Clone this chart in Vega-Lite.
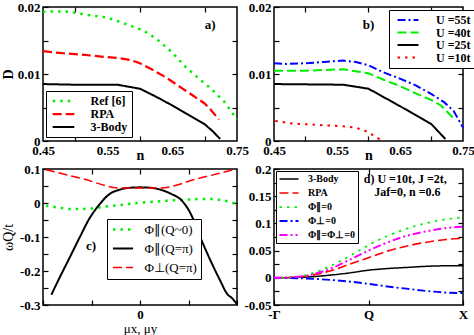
{
  "$schema": "https://vega.github.io/schema/vega-lite/v6.json",
  "background": "white",
  "padding": {"left": 0, "top": 0, "right": 0, "bottom": 0},
  "datasets": {
    "a": [
      {"s": "Ref [6]", "x": 0.45, "y": 0.0193}, {"s": "Ref [6]", "x": 0.47, "y": 0.01935}, {"s": "Ref [6]", "x": 0.49, "y": 0.0193},
      {"s": "Ref [6]", "x": 0.52, "y": 0.0188}, {"s": "Ref [6]", "x": 0.55, "y": 0.0184}, {"s": "Ref [6]", "x": 0.58, "y": 0.0174},
      {"s": "Ref [6]", "x": 0.605, "y": 0.0165}, {"s": "Ref [6]", "x": 0.625, "y": 0.0153}, {"s": "Ref [6]", "x": 0.65, "y": 0.0132},
      {"s": "Ref [6]", "x": 0.67, "y": 0.0111}, {"s": "Ref [6]", "x": 0.69, "y": 0.0094}, {"s": "Ref [6]", "x": 0.71, "y": 0.0078},
      {"s": "Ref [6]", "x": 0.73, "y": 0.0059}, {"s": "Ref [6]", "x": 0.75, "y": 0.0032},
      {"s": "RPA", "x": 0.45, "y": 0.0134}, {"s": "RPA", "x": 0.48, "y": 0.0131}, {"s": "RPA", "x": 0.51, "y": 0.0129},
      {"s": "RPA", "x": 0.54, "y": 0.0126}, {"s": "RPA", "x": 0.565, "y": 0.0124}, {"s": "RPA", "x": 0.585, "y": 0.0121},
      {"s": "RPA", "x": 0.6, "y": 0.0116}, {"s": "RPA", "x": 0.62, "y": 0.0106}, {"s": "RPA", "x": 0.64, "y": 0.0095},
      {"s": "RPA", "x": 0.66, "y": 0.0082}, {"s": "RPA", "x": 0.68, "y": 0.0069}, {"s": "RPA", "x": 0.7, "y": 0.0056},
      {"s": "RPA", "x": 0.71, "y": 0.0046}, {"s": "RPA", "x": 0.722, "y": 0.0032},
      {"s": "3-Body", "x": 0.45, "y": 0.0085}, {"s": "3-Body", "x": 0.5, "y": 0.0084}, {"s": "3-Body", "x": 0.565, "y": 0.0084},
      {"s": "3-Body", "x": 0.6, "y": 0.0078}, {"s": "3-Body", "x": 0.625, "y": 0.0066}, {"s": "3-Body", "x": 0.65, "y": 0.0053},
      {"s": "3-Body", "x": 0.675, "y": 0.0039}, {"s": "3-Body", "x": 0.7, "y": 0.0025}, {"s": "3-Body", "x": 0.712, "y": 0.0015},
      {"s": "3-Body", "x": 0.724, "y": 0.0003}
    ],
    "b": [
      {"s": "U =55t", "x": 0.45, "y": 0.0116}, {"s": "U =55t", "x": 0.47, "y": 0.0115}, {"s": "U =55t", "x": 0.5, "y": 0.0116},
      {"s": "U =55t", "x": 0.53, "y": 0.0118}, {"s": "U =55t", "x": 0.56, "y": 0.012}, {"s": "U =55t", "x": 0.58, "y": 0.0118},
      {"s": "U =55t", "x": 0.6, "y": 0.0113}, {"s": "U =55t", "x": 0.625, "y": 0.0102}, {"s": "U =55t", "x": 0.65, "y": 0.0093},
      {"s": "U =55t", "x": 0.675, "y": 0.0083}, {"s": "U =55t", "x": 0.7, "y": 0.007}, {"s": "U =55t", "x": 0.72, "y": 0.0058},
      {"s": "U =55t", "x": 0.735, "y": 0.0045}, {"s": "U =55t", "x": 0.75, "y": 0.002},
      {"s": "U =40t", "x": 0.45, "y": 0.0105}, {"s": "U =40t", "x": 0.5, "y": 0.0105}, {"s": "U =40t", "x": 0.56, "y": 0.0107},
      {"s": "U =40t", "x": 0.6, "y": 0.0101}, {"s": "U =40t", "x": 0.625, "y": 0.0091}, {"s": "U =40t", "x": 0.65, "y": 0.0082},
      {"s": "U =40t", "x": 0.675, "y": 0.0071}, {"s": "U =40t", "x": 0.7, "y": 0.0061}, {"s": "U =40t", "x": 0.715, "y": 0.0053},
      {"s": "U =40t", "x": 0.735, "y": 0.0034},
      {"s": "U =25t", "x": 0.45, "y": 0.0085}, {"s": "U =25t", "x": 0.56, "y": 0.0084}, {"s": "U =25t", "x": 0.6, "y": 0.0078},
      {"s": "U =25t", "x": 0.65, "y": 0.0052}, {"s": "U =25t", "x": 0.7, "y": 0.0025}, {"s": "U =25t", "x": 0.722, "y": 0.0003},
      {"s": "U =10t", "x": 0.452, "y": 0.003}, {"s": "U =10t", "x": 0.48, "y": 0.0026}, {"s": "U =10t", "x": 0.52, "y": 0.0024},
      {"s": "U =10t", "x": 0.56, "y": 0.0022}, {"s": "U =10t", "x": 0.58, "y": 0.002}, {"s": "U =10t", "x": 0.595, "y": 0.0015},
      {"s": "U =10t", "x": 0.605, "y": 0.001}, {"s": "U =10t", "x": 0.612, "y": 0.0006}, {"s": "U =10t", "x": 0.62, "y": 0.0001}
    ],
    "c": [
      {"s": "Φ∥(Q~0)", "x": -0.97, "y": -0.008}, {"s": "Φ∥(Q~0)", "x": -0.85, "y": -0.013}, {"s": "Φ∥(Q~0)", "x": -0.7, "y": -0.018},
      {"s": "Φ∥(Q~0)", "x": -0.55, "y": -0.017}, {"s": "Φ∥(Q~0)", "x": -0.4, "y": -0.012}, {"s": "Φ∥(Q~0)", "x": -0.2, "y": -0.006},
      {"s": "Φ∥(Q~0)", "x": 0, "y": 0.001}, {"s": "Φ∥(Q~0)", "x": 0.2, "y": 0.005}, {"s": "Φ∥(Q~0)", "x": 0.4, "y": 0.009},
      {"s": "Φ∥(Q~0)", "x": 0.55, "y": 0.011}, {"s": "Φ∥(Q~0)", "x": 0.7, "y": 0.012}, {"s": "Φ∥(Q~0)", "x": 0.85, "y": 0.008},
      {"s": "Φ∥(Q~0)", "x": 0.98, "y": -0.001},
      {"s": "Φ∥(Q=π)", "x": -0.914, "y": -0.27}, {"s": "Φ∥(Q=π)", "x": -0.828, "y": -0.219}, {"s": "Φ∥(Q=π)", "x": -0.724, "y": -0.16},
      {"s": "Φ∥(Q=π)", "x": -0.62, "y": -0.1}, {"s": "Φ∥(Q=π)", "x": -0.52, "y": -0.045}, {"s": "Φ∥(Q=π)", "x": -0.42, "y": -0.005},
      {"s": "Φ∥(Q=π)", "x": -0.32, "y": 0.025}, {"s": "Φ∥(Q=π)", "x": -0.2, "y": 0.04}, {"s": "Φ∥(Q=π)", "x": -0.1, "y": 0.045},
      {"s": "Φ∥(Q=π)", "x": 0, "y": 0.046}, {"s": "Φ∥(Q=π)", "x": 0.1, "y": 0.045}, {"s": "Φ∥(Q=π)", "x": 0.2, "y": 0.04},
      {"s": "Φ∥(Q=π)", "x": 0.32, "y": 0.027}, {"s": "Φ∥(Q=π)", "x": 0.42, "y": 0.01}, {"s": "Φ∥(Q=π)", "x": 0.52, "y": -0.03},
      {"s": "Φ∥(Q=π)", "x": 0.62, "y": -0.1}, {"s": "Φ∥(Q=π)", "x": 0.72, "y": -0.165}, {"s": "Φ∥(Q=π)", "x": 0.83, "y": -0.23},
      {"s": "Φ∥(Q=π)", "x": 0.9, "y": -0.268}, {"s": "Φ∥(Q=π)", "x": 0.95, "y": -0.28}, {"s": "Φ∥(Q=π)", "x": 1.0, "y": -0.298},
      {"s": "Φ⊥(Q=π)", "x": -0.97, "y": 0.098}, {"s": "Φ⊥(Q=π)", "x": -0.6, "y": 0.072}, {"s": "Φ⊥(Q=π)", "x": -0.2, "y": 0.044},
      {"s": "Φ⊥(Q=π)", "x": 0.2, "y": 0.044}, {"s": "Φ⊥(Q=π)", "x": 0.6, "y": 0.072}, {"s": "Φ⊥(Q=π)", "x": 0.98, "y": 0.099}
    ],
    "d": [
      {"s": "3-Body", "x": 0, "y": 0}, {"s": "3-Body", "x": 0.3, "y": 0.001}, {"s": "3-Body", "x": 0.6, "y": 0.005},
      {"s": "3-Body", "x": 0.8, "y": 0.009}, {"s": "3-Body", "x": 1.0, "y": 0.014}, {"s": "3-Body", "x": 1.2, "y": 0.017},
      {"s": "3-Body", "x": 1.4, "y": 0.019}, {"s": "3-Body", "x": 1.6, "y": 0.021}, {"s": "3-Body", "x": 1.8, "y": 0.022},
      {"s": "3-Body", "x": 2.0, "y": 0.022},
      {"s": "RPA", "x": 0, "y": 0}, {"s": "RPA", "x": 0.2, "y": 0.001}, {"s": "RPA", "x": 0.4, "y": 0.005},
      {"s": "RPA", "x": 0.6, "y": 0.013}, {"s": "RPA", "x": 0.8, "y": 0.025}, {"s": "RPA", "x": 1.0, "y": 0.037},
      {"s": "RPA", "x": 1.2, "y": 0.049}, {"s": "RPA", "x": 1.4, "y": 0.058}, {"s": "RPA", "x": 1.6, "y": 0.065},
      {"s": "RPA", "x": 1.8, "y": 0.07}, {"s": "RPA", "x": 2.0, "y": 0.073},
      {"s": "Φ∥=0", "x": 0, "y": 0}, {"s": "Φ∥=0", "x": 0.2, "y": 0.001}, {"s": "Φ∥=0", "x": 0.4, "y": 0.008},
      {"s": "Φ∥=0", "x": 0.6, "y": 0.022}, {"s": "Φ∥=0", "x": 0.8, "y": 0.04}, {"s": "Φ∥=0", "x": 1.0, "y": 0.06},
      {"s": "Φ∥=0", "x": 1.2, "y": 0.077}, {"s": "Φ∥=0", "x": 1.4, "y": 0.09}, {"s": "Φ∥=0", "x": 1.6, "y": 0.1},
      {"s": "Φ∥=0", "x": 1.8, "y": 0.107}, {"s": "Φ∥=0", "x": 2.0, "y": 0.111},
      {"s": "Φ⊥=0", "x": 0, "y": 0}, {"s": "Φ⊥=0", "x": 0.3, "y": -0.001}, {"s": "Φ⊥=0", "x": 0.6, "y": -0.004},
      {"s": "Φ⊥=0", "x": 0.8, "y": -0.007}, {"s": "Φ⊥=0", "x": 1.0, "y": -0.011}, {"s": "Φ⊥=0", "x": 1.2, "y": -0.016},
      {"s": "Φ⊥=0", "x": 1.4, "y": -0.02}, {"s": "Φ⊥=0", "x": 1.6, "y": -0.024}, {"s": "Φ⊥=0", "x": 1.8, "y": -0.027},
      {"s": "Φ⊥=0", "x": 2.0, "y": -0.028},
      {"s": "Φ∥=Φ⊥=0", "x": 0, "y": 0}, {"s": "Φ∥=Φ⊥=0", "x": 0.2, "y": 0.001}, {"s": "Φ∥=Φ⊥=0", "x": 0.4, "y": 0.006},
      {"s": "Φ∥=Φ⊥=0", "x": 0.6, "y": 0.017}, {"s": "Φ∥=Φ⊥=0", "x": 0.8, "y": 0.033}, {"s": "Φ∥=Φ⊥=0", "x": 1.0, "y": 0.05},
      {"s": "Φ∥=Φ⊥=0", "x": 1.2, "y": 0.065}, {"s": "Φ∥=Φ⊥=0", "x": 1.4, "y": 0.077}, {"s": "Φ∥=Φ⊥=0", "x": 1.6, "y": 0.085},
      {"s": "Φ∥=Φ⊥=0", "x": 1.8, "y": 0.091}, {"s": "Φ∥=Φ⊥=0", "x": 2.0, "y": 0.094}
    ]
  },
  "columns": 2,
  "spacing": {"column": 37, "row": 28},
  "bounds": "flush",
  "concat": [
    {
      "width": 194, "height": 134,
      "layer": [
        {
          "data": {"name": "a"},
          "mark": {"type": "line"},
          "encoding": {
            "x": {"field": "x", "type": "quantitative", "scale": {"domain": [0.45, 0.75], "nice": false, "zero": false},
              "axis": {"orient": "bottom", "values": [0.45, 0.5, 0.55, 0.6, 0.65, 0.7, 0.75],
                "labelExpr": "round(datum.value*100)%10==5 ? ''+datum.value : ''",
                "tickOpacity": {"condition": {"test": "round(datum.value*100)%10==0", "value": 1}, "value": 0},
                "title": "n", "titlePadding": -9}},
            "y": {"field": "y", "type": "quantitative", "scale": {"domain": [0, 0.02], "nice": false},
              "axis": {"orient": "left", "values": [0, 0.005, 0.01, 0.015, 0.02],
                "labelExpr": "round(datum.value*1000)%10==0 ? ''+datum.value : ''", "title": "D", "titlePadding": 2}},
            "color": {"field": "s", "type": "nominal", "scale": {"domain": ["Ref [6]", "RPA", "3-Body"], "range": ["#00ee00", "#ff0000", "#000000"]},
              "legend": {"orient": "none", "legendX": 3, "legendY": 84, "title": null, "symbolType": "M-3,0H3", "symbolSize": 52, "symbolOffset": 7.5, "symbolStrokeWidth": 2, "labelFont": "Liberation Serif", "labelFontWeight": "bold", "labelFontSize": 12, "labelColor": "black", "strokeColor": "black", "fillColor": "white", "padding": 4, "rowPadding": 1, "labelOffset": 21}},
            "strokeDash": {"field": "s", "type": "nominal", "scale": {"domain": ["Ref [6]", "RPA", "3-Body"], "range": [[2.5, 5], [9, 4], [1, 0]]},
              "legend": {"orient": "none", "legendX": 3, "legendY": 84, "title": null, "symbolType": "M-3,0H3", "symbolSize": 52, "symbolOffset": 7.5, "symbolStrokeWidth": 2, "labelFont": "Liberation Serif", "labelFontWeight": "bold", "labelFontSize": 12, "labelColor": "black", "strokeColor": "black", "fillColor": "white", "padding": 4, "rowPadding": 1, "labelOffset": 21}},
            "strokeWidth": {"field": "s", "type": "nominal", "scale": {"domain": ["Ref [6]", "RPA", "3-Body"], "range": [2.5, 2, 1.5]}, "legend": null}
          }
        },
        {
          "data": {"name": "a"},
          "mark": {"type": "point", "opacity": 0},
          "encoding": {
            "x": {"field": "x", "type": "quantitative", "scale": {"domain": [0.45, 0.75], "nice": false, "zero": false},
              "axis": {"orient": "top", "values": [0.5, 0.6, 0.7], "labels": false, "title": null}},
            "y": {"field": "y", "type": "quantitative", "scale": {"domain": [0, 0.02], "nice": false},
              "axis": {"orient": "right", "values": [0.005, 0.01, 0.015], "labels": false, "title": null}}
          }
        },
        {
          "data": {"values": [{"x": 0.7, "y": 0.0173, "t": "a)"}]},
          "mark": {"type": "text", "align": "left", "font": "Liberation Serif", "fontWeight": "bold", "fontSize": 13, "color": "black"},
          "encoding": {
            "x": {"field": "x", "type": "quantitative", "scale": {"domain": [0.45, 0.75], "nice": false, "zero": false}, "axis": null},
            "y": {"field": "y", "type": "quantitative", "scale": {"domain": [0, 0.02], "nice": false}, "axis": null},
            "text": {"field": "t"}
          }
        }
      ],
      "resolve": {"axis": {"x": "independent", "y": "independent"}}
    },
    {
      "width": 189, "height": 134,
      "layer": [
        {
          "data": {"name": "b"},
          "mark": {"type": "line"},
          "encoding": {
            "x": {"field": "x", "type": "quantitative", "scale": {"domain": [0.45, 0.75], "nice": false, "zero": false},
              "axis": {"orient": "bottom", "values": [0.45, 0.5, 0.55, 0.6, 0.65, 0.7, 0.75],
                "labelExpr": "round(datum.value*100)%10==5 ? ''+datum.value : ''",
                "tickOpacity": {"condition": {"test": "round(datum.value*100)%10==0", "value": 1}, "value": 0},
                "title": "n", "titlePadding": -9}},
            "y": {"field": "y", "type": "quantitative", "scale": {"domain": [0, 0.02], "nice": false},
              "axis": {"orient": "left", "values": [0, 0.005, 0.01, 0.015, 0.02],
                "labelExpr": "round(datum.value*1000)%10==0 ? ''+datum.value : ''", "title": null}},
            "color": {"field": "s", "type": "nominal", "scale": {"domain": ["U =55t", "U =40t", "U =25t", "U =10t"], "range": ["#0000ff", "#00ee00", "#000000", "#ff0000"]},
              "legend": {"orient": "none", "legendX": 115, "legendY": 3, "title": null, "symbolType": "M-3,0H3", "symbolSize": 49, "symbolOffset": 9, "symbolStrokeWidth": 2, "labelFont": "Liberation Serif", "labelFontWeight": "bold", "labelFontSize": 12, "labelColor": "black", "strokeColor": "black", "fillColor": "white", "padding": 4, "rowPadding": 0.5, "labelOffset": 22}},
            "strokeDash": {"field": "s", "type": "nominal", "scale": {"domain": ["U =55t", "U =40t", "U =25t", "U =10t"], "range": [[8, 3, 2, 3], [9, 4], [1, 0], [2.5, 5]]},
              "legend": {"orient": "none", "legendX": 115, "legendY": 3, "title": null, "symbolType": "M-3,0H3", "symbolSize": 49, "symbolOffset": 9, "symbolStrokeWidth": 2, "labelFont": "Liberation Serif", "labelFontWeight": "bold", "labelFontSize": 12, "labelColor": "black", "strokeColor": "black", "fillColor": "white", "padding": 4, "rowPadding": 0.5, "labelOffset": 22}},
            "strokeWidth": {"field": "s", "type": "nominal", "scale": {"domain": ["U =55t", "U =40t", "U =25t", "U =10t"], "range": [2, 2, 1.5, 2.5]}, "legend": null}
          }
        },
        {
          "data": {"name": "b"},
          "mark": {"type": "point", "opacity": 0},
          "encoding": {
            "x": {"field": "x", "type": "quantitative", "scale": {"domain": [0.45, 0.75], "nice": false, "zero": false},
              "axis": {"orient": "top", "values": [0.5, 0.6, 0.7], "labels": false, "title": null}},
            "y": {"field": "y", "type": "quantitative", "scale": {"domain": [0, 0.02], "nice": false},
              "axis": {"orient": "right", "values": [0.005, 0.01, 0.015], "labels": false, "title": null}}
          }
        },
        {
          "data": {"values": [{"x": 0.591, "y": 0.0173, "t": "b)"}]},
          "mark": {"type": "text", "align": "left", "font": "Liberation Serif", "fontWeight": "bold", "fontSize": 13, "color": "black"},
          "encoding": {
            "x": {"field": "x", "type": "quantitative", "scale": {"domain": [0.45, 0.75], "nice": false, "zero": false}, "axis": null},
            "y": {"field": "y", "type": "quantitative", "scale": {"domain": [0, 0.02], "nice": false}, "axis": null},
            "text": {"field": "t"}
          }
        }
      ],
      "resolve": {"axis": {"x": "independent", "y": "independent"}}
    },
    {
      "width": 194, "height": 136,
      "layer": [
        {
          "data": {"name": "c"},
          "mark": {"type": "line", "interpolate": "monotone"},
          "encoding": {
            "x": {"field": "x", "type": "quantitative", "scale": {"domain": [-1, 1], "nice": false, "zero": false},
              "axis": {"orient": "bottom", "values": [-1, -0.5, 0, 0.5, 1],
                "labelExpr": "datum.value==0 ? '0' : ''",
                "title": "μx, μy", "titleFontWeight": "normal", "titleFontSize": 13, "titlePadding": 1}},
            "y": {"field": "y", "type": "quantitative", "scale": {"domain": [-0.3, 0.1], "nice": false, "zero": false},
              "axis": {"orient": "left", "values": [-0.3, -0.25, -0.2, -0.15, -0.1, -0.05, 0, 0.05, 0.1],
                "labelExpr": "round(datum.value*100)%10==0 ? ''+datum.value : ''", "title": "ωQ/t", "titleFontWeight": "normal", "titlePadding": 4}},
            "color": {"field": "s", "type": "nominal", "scale": {"domain": ["Φ∥(Q~0)", "Φ∥(Q=π)", "Φ⊥(Q=π)"], "range": ["#00ee00", "#000000", "#ff0000"]},
              "legend": {"orient": "none", "legendX": 64, "legendY": 50, "title": null, "symbolType": "M-3,0H3", "symbolSize": 45, "symbolOffset": 5.5, "symbolStrokeWidth": 2, "labelFont": "Liberation Serif", "labelFontWeight": "normal", "labelFontSize": 13, "labelColor": "black", "strokeColor": "black", "fillColor": "white", "padding": 4, "rowPadding": 5, "labelOffset": 15}},
            "strokeDash": {"field": "s", "type": "nominal", "scale": {"domain": ["Φ∥(Q~0)", "Φ∥(Q=π)", "Φ⊥(Q=π)"], "range": [[2.5, 5], [1, 0], [9, 4]]},
              "legend": {"orient": "none", "legendX": 64, "legendY": 50, "title": null, "symbolType": "M-3,0H3", "symbolSize": 45, "symbolOffset": 5.5, "symbolStrokeWidth": 2, "labelFont": "Liberation Serif", "labelFontWeight": "normal", "labelFontSize": 13, "labelColor": "black", "strokeColor": "black", "fillColor": "white", "padding": 4, "rowPadding": 5, "labelOffset": 15}},
            "strokeWidth": {"field": "s", "type": "nominal", "scale": {"domain": ["Φ∥(Q~0)", "Φ∥(Q=π)", "Φ⊥(Q=π)"], "range": [2.5, 1.5, 2]}, "legend": null}
          }
        },
        {
          "data": {"name": "c"},
          "mark": {"type": "point", "opacity": 0},
          "encoding": {
            "x": {"field": "x", "type": "quantitative", "scale": {"domain": [-1, 1], "nice": false, "zero": false},
              "axis": {"orient": "top", "values": [-0.5, 0, 0.5], "labels": false, "title": null}},
            "y": {"field": "y", "type": "quantitative", "scale": {"domain": [-0.3, 0.1], "nice": false, "zero": false},
              "axis": {"orient": "right", "values": [-0.25, -0.2, -0.15, -0.1, -0.05, 0, 0.05], "labels": false, "title": null}}
          }
        },
        {
          "data": {"values": [{"x": -0.557, "y": -0.125, "t": "c)"}]},
          "mark": {"type": "text", "align": "left", "font": "Liberation Serif", "fontWeight": "bold", "fontSize": 13, "color": "black"},
          "encoding": {
            "x": {"field": "x", "type": "quantitative", "scale": {"domain": [-1, 1], "nice": false, "zero": false}, "axis": null},
            "y": {"field": "y", "type": "quantitative", "scale": {"domain": [-0.3, 0.1], "nice": false, "zero": false}, "axis": null},
            "text": {"field": "t"}
          }
        }
      ],
      "resolve": {"axis": {"x": "independent", "y": "independent"}}
    },
    {
      "width": 189, "height": 136,
      "layer": [
        {
          "data": {"name": "d"},
          "mark": {"type": "line", "interpolate": "monotone"},
          "encoding": {
            "x": {"field": "x", "type": "quantitative", "scale": {"domain": [0, 2], "nice": false, "zero": false},
              "axis": {"orient": "bottom", "values": [0, 1, 2],
                "labelExpr": "datum.value==0 ? '-Γ' : (datum.value==1 ? 'Q' : 'X')", "title": null}},
            "y": {"field": "y", "type": "quantitative", "scale": {"domain": [-0.05, 0.2], "nice": false, "zero": false},
              "axis": {"orient": "left", "values": [-0.05, -0.025, 0, 0.025, 0.05, 0.075, 0.1, 0.125, 0.15, 0.175, 0.2],
                "labelExpr": "round(datum.value*1000)%50==0 ? ''+datum.value : ''", "title": null}},
            "color": {"field": "s", "type": "nominal", "scale": {"domain": ["3-Body", "RPA", "Φ∥=0", "Φ⊥=0", "Φ∥=Φ⊥=0"], "range": ["#000000", "#ff0000", "#00ee00", "#0000ff", "#ff00ff"]},
              "legend": {"orient": "none", "legendX": 2, "legendY": 2, "title": null, "symbolType": "M-3,0H3", "symbolSize": 40, "symbolOffset": 5, "symbolStrokeWidth": 2, "labelFont": "Liberation Serif", "labelFontWeight": "bold", "labelFontSize": 10, "labelColor": "black", "strokeColor": "black", "fillColor": "white", "padding": 3, "rowPadding": 4, "labelOffset": 14}},
            "strokeDash": {"field": "s", "type": "nominal", "scale": {"domain": ["3-Body", "RPA", "Φ∥=0", "Φ⊥=0", "Φ∥=Φ⊥=0"], "range": [[1, 0], [9, 4], [2.5, 5], [8, 3, 2, 3], [8, 3, 2, 3, 2, 3]]},
              "legend": {"orient": "none", "legendX": 2, "legendY": 2, "title": null, "symbolType": "M-3,0H3", "symbolSize": 40, "symbolOffset": 5, "symbolStrokeWidth": 2, "labelFont": "Liberation Serif", "labelFontWeight": "bold", "labelFontSize": 10, "labelColor": "black", "strokeColor": "black", "fillColor": "white", "padding": 3, "rowPadding": 4, "labelOffset": 14}},
            "strokeWidth": {"field": "s", "type": "nominal", "scale": {"domain": ["3-Body", "RPA", "Φ∥=0", "Φ⊥=0", "Φ∥=Φ⊥=0"], "range": [1.5, 2, 2.5, 2, 2]}, "legend": null}
          }
        },
        {
          "data": {"name": "d"},
          "mark": {"type": "point", "opacity": 0},
          "encoding": {
            "x": {"field": "x", "type": "quantitative", "scale": {"domain": [0, 2], "nice": false, "zero": false},
              "axis": {"orient": "top", "values": [1], "labels": false, "title": null}},
            "y": {"field": "y", "type": "quantitative", "scale": {"domain": [-0.05, 0.2], "nice": false, "zero": false},
              "axis": {"orient": "right", "values": [-0.025, 0, 0.025, 0.05, 0.075, 0.1, 0.125, 0.15, 0.175], "labels": false, "title": null}}
          }
        },
        {
          "data": {"values": [{"x": 0.95, "y": 0.1816, "t": "d) U =10t, J =2t,"}, {"x": 1.06, "y": 0.1577, "t": "Jaf=0, n =0.6"}]},
          "mark": {"type": "text", "align": "left", "font": "Liberation Serif", "fontWeight": "bold", "fontSize": 12, "color": "black"},
          "encoding": {
            "x": {"field": "x", "type": "quantitative", "scale": {"domain": [0, 2], "nice": false, "zero": false}, "axis": null},
            "y": {"field": "y", "type": "quantitative", "scale": {"domain": [-0.05, 0.2], "nice": false, "zero": false}, "axis": null},
            "text": {"field": "t"}
          }
        }
      ],
      "resolve": {"axis": {"x": "independent", "y": "independent"}}
    }
  ],
  "resolve": {"scale": {"color": "independent", "strokeDash": "independent", "strokeWidth": "independent"}},
  "config": {
    "view": {"stroke": "black", "strokeWidth": 1.5},
    "axis": {"domain": false, "grid": false, "tickColor": "black", "tickWidth": 1.2, "tickSize": -5, "labelPadding": 8,
      "labelFont": "Liberation Serif", "labelFontWeight": "bold", "labelFontSize": 13, "labelColor": "black",
      "labelFlush": false, "labelOverlap": false,
      "titleFont": "Liberation Serif", "titleFontWeight": "bold", "titleFontSize": 14, "titleColor": "black"}
  }
}
